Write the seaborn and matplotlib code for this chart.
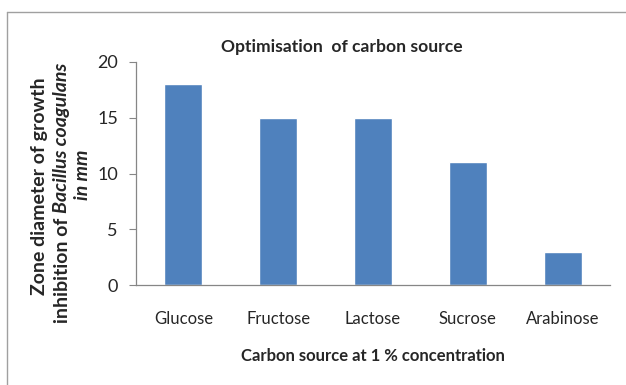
import matplotlib
matplotlib.use("Agg")
import matplotlib.pyplot as plt
from matplotlib.lines import Line2D
import pandas as pd
import seaborn as sns

sugars = ["Glucose", "Fructose", "Lactose", "Sucrose", "Arabinose"]
zone_mm = [18, 15, 15, 11, 3]
y_ticks = [0, 5, 10, 15, 20]

BAR_COLOR = "#4F81BD"
AXIS_GRAY = "#868686"

sns.set_style("white")
plt.rcParams["font.family"] = ["Lato", "DejaVu Sans"]

df = pd.DataFrame({"sugar": sugars, "zone": zone_mm})

fig = plt.figure(figsize=(6.26, 3.85), dpi=100)
ax = fig.add_axes([136 / 626, 1 - 285 / 385, (610 - 136) / 626, (285 - 62) / 385])

sns.barplot(data=df, x="sugar", y="zone", color=BAR_COLOR, width=0.4,
            saturation=1, ax=ax)

ax.set_ylim(0, 20)
ax.set_yticks(y_ticks)
ax.set_xlim(-0.5, len(sugars) - 0.5)
ax.tick_params(axis="y", length=5, width=0.8, color=AXIS_GRAY, direction="out",
               labelsize=13, pad=8, left=True)
ax.tick_params(axis="x", length=0, labelsize=12, pad=19)
for s in ["top", "right"]:
    ax.spines[s].set_visible(False)
for s in ["left", "bottom"]:
    ax.spines[s].set_color(AXIS_GRAY)
    ax.spines[s].set_linewidth(0.9)

ax.set_xlabel("Carbon source at 1 % concentration", fontsize=12,
              fontweight="bold", labelpad=15)
ax.set_ylabel("")
fig.text(342 / 626, 1 - 47 / 385, "Optimisation  of carbon source",
         ha="center", va="center", fontsize=12.6, fontweight="bold")

# y label, three lines with mixed italics
YL = 14
fig.text(40 / 626, 1 - 186 / 385, "Zone diameter of growth", rotation=90,
         ha="center", va="center", fontsize=YL, fontweight="bold")
part = fig.text(62 / 626, 1 - 323 / 385, "inhibition of ", rotation=90,
                ha="center", va="bottom", fontsize=YL, fontweight="bold")
ax.annotate("Bacillus coagulans", xy=(0.5, 1.0), xycoords=part, rotation=90,
            ha="center", va="bottom", fontsize=YL, fontweight="bold",
            fontstyle="italic", annotation_clip=False)
fig.text(83 / 626, 1 - 175 / 385, "in mm", rotation=90, ha="center",
         va="center", fontsize=YL, fontweight="bold", fontstyle="italic")

# outer chart frame (only top and left edges visible)
fig.add_artist(Line2D([7 / 626, 7 / 626], [0, 1 - 12 / 385],
                      transform=fig.transFigure, color="#A0A0A0", lw=1))
fig.add_artist(Line2D([7 / 626, 1], [1 - 12 / 385, 1 - 12 / 385],
                      transform=fig.transFigure, color="#A0A0A0", lw=1))

fig.savefig("out.png", dpi=100)
